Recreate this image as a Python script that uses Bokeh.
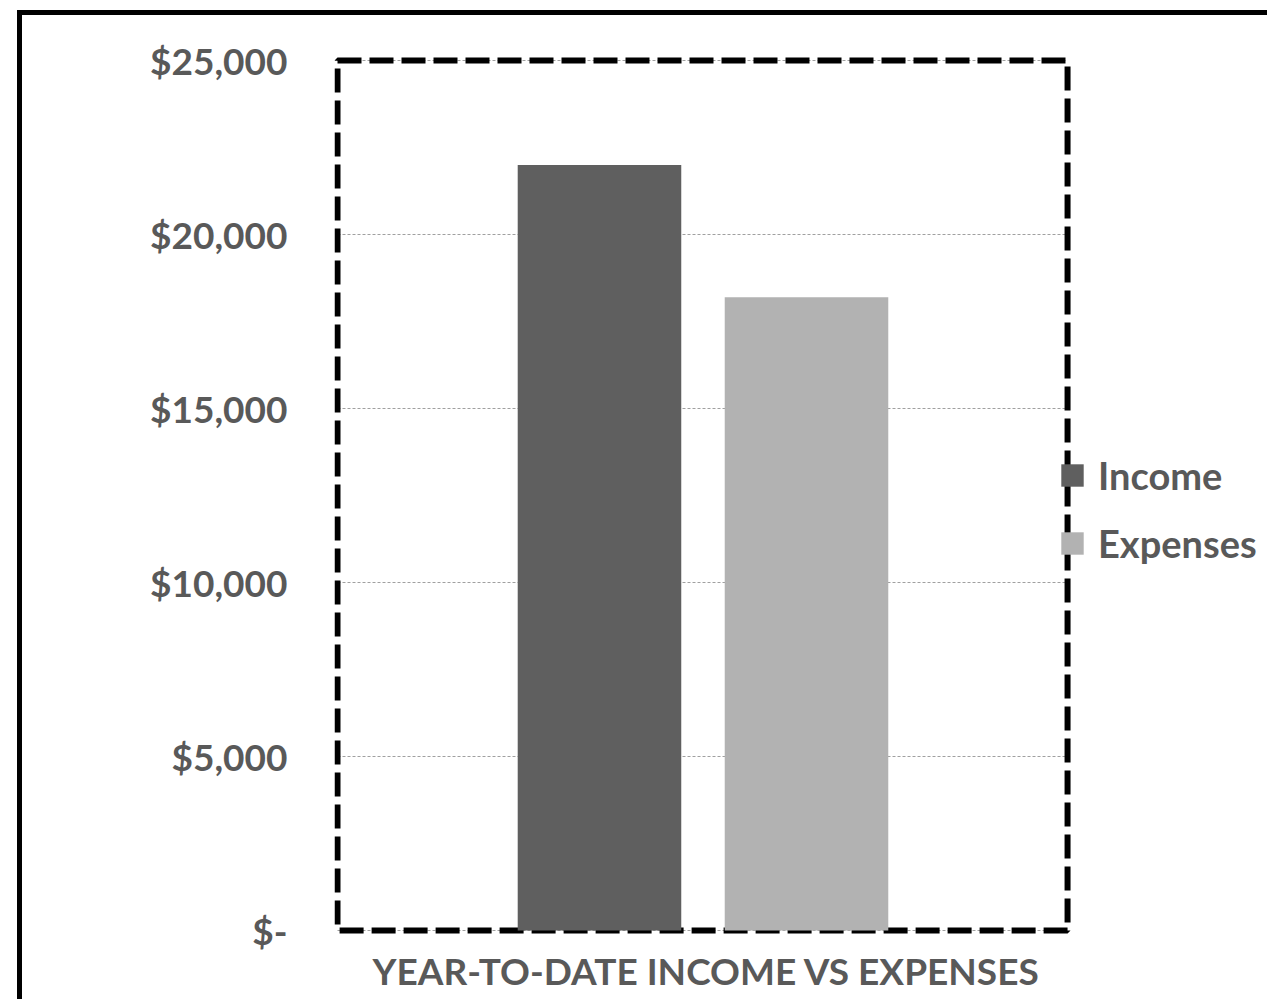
from bokeh.plotting import figure
from bokeh.models import (Range1d, FixedTicker, Legend, LegendItem, ColumnDataSource,
                          BoxAnnotation, Title)
from bokeh.embed import file_html
from bokeh.resources import INLINE

# ---- data ----
series = ["Income", "Expenses"]
values = [22000, 18200]
colors = ["#5f5f5f", "#b2b2b2"]
tick_values = [0, 5000, 10000, 15000, 20000, 25000]
tick_labels = ["$-", "$5,000", "$10,000", "$15,000", "$20,000", "$25,000"]
x_title = "YEAR-TO-DATE INCOME VS EXPENSES"

FONT = "Lato"
TXT = "#595959"

# layout constants (in x "slot" units: one slot per series, slot centres at 0, 1, ...)
X_START, X_END = -1.280, 3.251
BOX_LEFT, BOX_RIGHT = -1.2655, 2.261
Y_START, Y_END = -172.4, 25172.4

src = ColumnDataSource(dict(x=list(range(len(series))), series=series,
                            value=values, color=colors))

p = figure(x_range=Range1d(X_START, X_END), y_range=Range1d(Y_START, Y_END),
           width=1250, height=989, output_backend="svg", toolbar_location=None,
           x_axis_location=None,
           min_border_left=312, min_border_top=39, min_border_right=0,
           min_border_bottom=68)
p.margin = (10, 0, 0, 17)
p.styles = {"border-top": "5px solid black", "border-left": "5px solid black"}
p.outline_line_color = None

# dashed border of plot area (drawn beneath the legend)
box = BoxAnnotation(left=BOX_LEFT, right=BOX_RIGHT, bottom=tick_values[0], top=tick_values[-1],
                    fill_alpha=0, line_color="black", line_width=6, line_dash="24 8",
                    line_alpha=1.0, level="underlay")
p.add_layout(box)

r = p.vbar(x="x", top="value", width=0.79, color="color", source=src,
           line_color=None)

# y axis
p.yaxis.ticker = FixedTicker(ticks=tick_values)
p.yaxis.major_label_overrides = {v: l for v, l in zip(tick_values, tick_labels)}
p.yaxis.major_label_text_font = FONT
p.yaxis.major_label_text_font_style = "bold"
p.yaxis.major_label_text_font_size = "37px"
p.yaxis.major_label_text_color = TXT
p.yaxis.major_label_standoff = 41
p.yaxis.axis_line_color = None
p.yaxis.major_tick_line_color = None
p.yaxis.minor_tick_line_color = None

# category title below
t = Title(text=x_title, align="left", offset=38, standoff=18,
          text_font=FONT, text_font_style="bold", text_font_size="37px",
          text_color=TXT)
p.add_layout(t, "below")

# grid
p.xgrid.grid_line_color = None
g = p.ygrid[0]
g.ticker = FixedTicker(ticks=tick_values)
g.grid_line_color = "#a0a0a0"
g.grid_line_dash = "3 2"
g.grid_line_width = 1
try:
    g.cross_bounds = (BOX_LEFT, BOX_RIGHT)
except Exception:
    pass

# legend
legend = Legend(items=[LegendItem(label=s, renderers=[r], index=i) for i, s in enumerate(series)],
                location=(724, 370))
legend.level = "overlay"
legend.label_text_font = FONT
legend.label_text_font_style = "bold"
legend.label_text_font_size = "38px"
legend.label_text_color = TXT
legend.glyph_width = 28
legend.glyph_height = 28
legend.label_standoff = 12
legend.spacing = 22
legend.padding = 0
legend.margin = 0
legend.border_line_color = None
legend.background_fill_alpha = 0
p.add_layout(legend, "center")

open("out.html", "w").write(file_html(p, INLINE))
